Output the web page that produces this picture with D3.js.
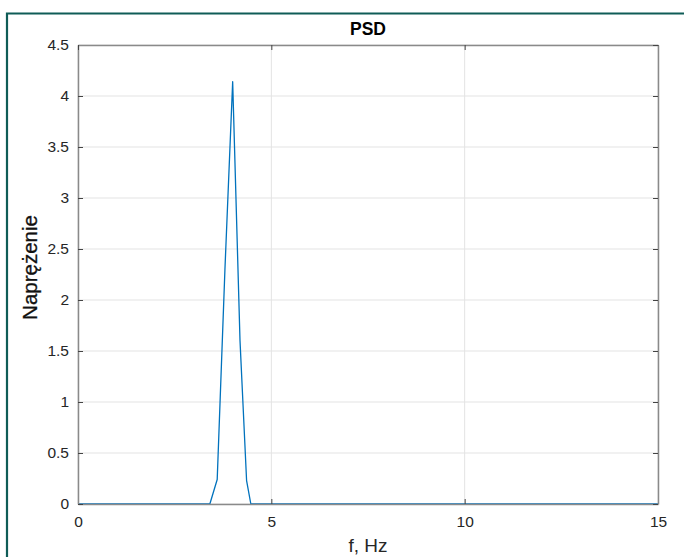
<!DOCTYPE html>
<html>
<head>
<meta charset="utf-8">
<script src="https://cdn.jsdelivr.net/npm/d3@7"></script>
<style>
  html, body { margin: 0; padding: 0; background: #fff; }
  svg { display: block; font-family: "Liberation Sans", Arial, sans-serif; }
</style>
</head>
<body>
<svg id="chart" width="684" height="557"></svg>
<script>
// Data
const freqHz = [0, 3.41, 3.60, 3.80, 4.00, 4.19, 4.36, 4.47, 15];
const psdValues = [0, 0, 0.24, 2.3, 4.14, 1.6, 0.23, 0, 0];
const xTicks = [0, 5, 10, 15];
const yTicks = [0, 0.5, 1, 1.5, 2, 2.5, 3, 3.5, 4, 4.5];
const titleText = "PSD";
const xLabel = "f, Hz";
const yLabel = "Naprężenie";

const svg = d3.select("#chart");
const W = 684, H = 557;
const m = { left: 78, right: 658, top: 45, bottom: 504 };

// frame
svg.append("rect").attr("width", W).attr("height", H).attr("fill", "#fff");
svg.append("path")
  .attr("d", `M7,${H} V13.5 H${W}`)
  .attr("fill", "none").attr("stroke", "#0f5c57").attr("stroke-width", 2.2);

const x = d3.scaleLinear().domain([0, 15]).range([m.left, m.right]);
const y = d3.scaleLinear().domain([0, 4.5]).range([m.bottom, m.top]);

// grid
const g = svg.append("g");
g.selectAll(".gy").data(yTicks).join("line")
  .attr("x1", m.left).attr("x2", m.right)
  .attr("y1", d => y(d)).attr("y2", d => y(d))
  .attr("stroke", "#e3e3e3").attr("stroke-width", 1);
g.selectAll(".gx").data(xTicks).join("line")
  .attr("y1", m.top).attr("y2", m.bottom)
  .attr("x1", d => x(d)).attr("x2", d => x(d))
  .attr("stroke", "#e3e3e3").attr("stroke-width", 1);

// data line
const pts = freqHz.map((f, i) => [f, psdValues[i]]);
svg.append("path")
  .datum(pts)
  .attr("d", d3.line().x(d => x(d[0])).y(d => y(d[1])))
  .attr("fill", "none").attr("stroke", "#0072BD").attr("stroke-width", 1.3)
  .attr("stroke-linejoin", "round");

// axes (box with inward ticks)
const axisColor = "#8a8a8a";
const textColor = "#262626";
const bottomAxis = d3.axisBottom(x).tickValues(xTicks).tickSizeInner(-5).tickSizeOuter(0).tickPadding(12).tickFormat(d3.format("d"));
const leftAxis = d3.axisLeft(y).tickValues(yTicks).tickSizeInner(-5).tickSizeOuter(0).tickPadding(9).tickFormat(d => d);
const topAxis = d3.axisTop(x).tickValues(xTicks).tickSizeInner(-5).tickSizeOuter(0).tickFormat("");
const rightAxis = d3.axisRight(y).tickValues(yTicks).tickSizeInner(-5).tickSizeOuter(0).tickFormat("");

function style(sel) {
  sel.select(".domain").attr("stroke", axisColor).attr("stroke-width", 1.5);
  sel.selectAll(".tick line").attr("stroke", "#444").attr("stroke-width", 1);
  sel.selectAll(".tick text").attr("fill", textColor).attr("font-size", 15.5)
    .attr("font-family", "Liberation Sans, Arial, sans-serif");
}
svg.append("g").attr("transform", `translate(0,${m.bottom})`).call(bottomAxis).call(style);
svg.append("g").attr("transform", `translate(${m.left},0)`).call(leftAxis).call(style);
svg.append("g").attr("transform", `translate(0,${m.top})`).call(topAxis).call(style);
svg.append("g").attr("transform", `translate(${m.right},0)`).call(rightAxis).call(style);

// titles
svg.append("text").attr("x", (m.left + m.right) / 2).attr("y", 35)
  .attr("text-anchor", "middle").attr("font-weight", "bold").attr("font-size", 17.5)
  .attr("fill", "#000").text(titleText);
svg.append("text").attr("x", (m.left + m.right) / 2).attr("y", 552)
  .attr("text-anchor", "middle").attr("font-size", 19)
  .attr("fill", textColor).text(xLabel);
svg.append("text")
  .attr("transform", `translate(37,${(m.top + m.bottom) / 2 - 7}) rotate(-90)`)
  .attr("text-anchor", "middle").attr("font-size", 20.5)
  .attr("fill", "#111").attr("stroke", "#111").attr("stroke-width", 0.3)
  .text(yLabel);
</script>
</body>
</html>
